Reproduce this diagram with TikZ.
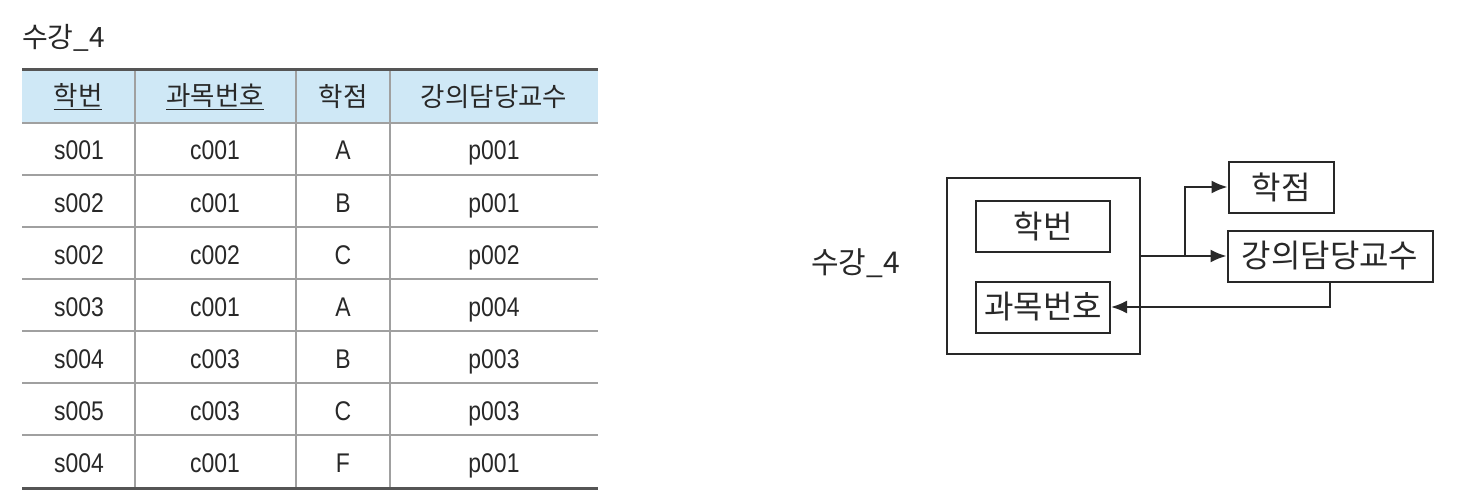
\documentclass[tikz,border=0pt]{standalone}
\usepackage{fontspec}
\setmainfont{Noto Sans CJK KR}
\newfontfamily\narrowfont[FakeStretch=0.85]{Liberation Sans}
\usetikzlibrary{arrows.meta}
\definecolor{hdrblue}{RGB}{207,232,246}
\definecolor{rulegray}{RGB}{160,160,160}
\definecolor{darkrule}{RGB}{85,85,85}
\definecolor{txt}{RGB}{40,40,40}
\tikzset{
  hdr/.style={font=\fontsize{26.5}{26.5}\selectfont, text=txt, inner sep=0pt},
  cell/.style={font=\narrowfont\fontsize{27}{27}\selectfont, text=txt, inner sep=0pt, anchor=base},
  ttl/.style={font=\fontsize{28}{28}\selectfont, text=txt, inner sep=0pt},
  attr/.style={draw=txt, line width=2pt, font=\fontsize{32}{32}\selectfont, text=txt, inner sep=0pt, minimum height=51pt},
  arr/.style={draw=txt, line width=2pt, -{Latex[length=16pt,width=13pt]}},
}
\begin{document}
\begin{tikzpicture}[x=1pt,y=-1pt]
\useasboundingbox (0,0) rectangle (1464,492);
\fill[white] (0,0) rectangle (1464,492);
% ---------- table ----------
\node[ttl, anchor=west] (ttl1) at (22,38) {수강\_4};
\fill[hdrblue] (22,70) rectangle (598,123);
\foreach \yy in {175,227,279,331,383,435}
  \draw[rulegray, line width=1.5pt] (22,\yy) -- (598,\yy);
\foreach \xx in {135,296,390}
  \draw[rulegray, line width=1.5pt] (\xx,70) -- (\xx,488);
\draw[rulegray, line width=2pt] (22,123) -- (598,123);
\draw[darkrule, line width=3pt] (22,70) -- (598,70);
\draw[darkrule, line width=3pt] (22,488) -- (598,488);
\node[hdr] (h1) at (78,97) {\underline{학번}};
\node[hdr] (h2) at (215,97) {\underline{과목번호}};
\node[hdr] (h3) at (343,97) {학점};
\node[hdr] (h4) at (494,97) {강의담당교수};
\foreach \s/\c/\g/\p [count=\i] in {s001/c001/A/p001, s002/c001/B/p001, s002/c002/C/p002, s003/c001/A/p004, s004/c003/B/p003, s005/c003/C/p003, s004/c001/F/p001}{
  \pgfmathsetmacro{\yc}{160+52*(\i-1)}
  \node[cell] (r\i a) at (79,\yc) {\s};
  \node[cell] (r\i b) at (215,\yc) {\c};
  \node[cell] (r\i c) at (343,\yc) {\g};
  \node[cell] (r\i d) at (494,\yc) {\p};
}
% ---------- diagram ----------
\node[ttl, font=\fontsize{30}{30}\selectfont, anchor=west] (ttl2) at (811,263) {수강\_4};
\node[draw=txt, line width=2pt, minimum width=193pt, minimum height=176pt, inner sep=0pt] (outer) at (1043,266) {};
\node[attr, minimum width=134pt] (sid) at (1043,226) {학번};
\node[attr, minimum width=134pt] (subj) at (1043,307) {과목번호};
\node[attr, minimum width=105pt] (grade) at (1281,187) {학점};
\node[attr, minimum width=205pt] (prof) at (1330,256) {강의담당교수};
\draw[arr] (outer.east |- prof.west) -- (prof.west);
\coordinate (br) at (1185,256);
\draw[arr] (br) |- (grade.west);
\draw[arr] (prof.south) |- (subj.east);
\end{tikzpicture}
\end{document}
